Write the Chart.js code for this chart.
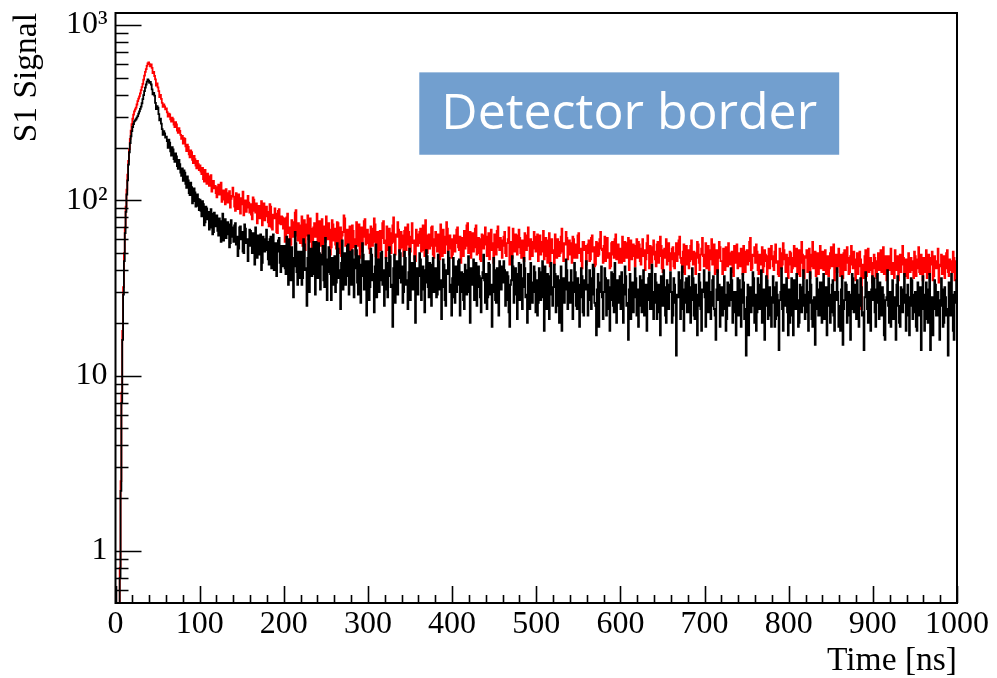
<!DOCTYPE html>
<html>
<head>
<meta charset="utf-8">
<script src="https://cdn.jsdelivr.net/npm/chart.js@4.4.1/dist/chart.umd.min.js"></script>
<style>
  html, body { margin: 0; padding: 0; background: #ffffff; }
  #wrap { width: 997px; height: 678px; }
</style>
</head>
<body>
<div id="wrap"><canvas id="c" width="997" height="678"></canvas></div>
<script>
// ---- Data (1 ns bins, bin i covers [i, i+1] ns) ----
const binWidth = 1;

const redCounts = [
  0.3, 0.3, 0.3, 0.35, 0.5, 0.8, 2.5, 8, 18, 32,
  50, 70, 92, 115, 140, 168, 196, 224, 250, 272,
  292, 308, 322, 330, 338, 352, 368, 380, 392, 408,
  425, 442, 462, 488, 515, 540, 560, 585, 605, 612,
  598, 582, 596, 570, 531, 540, 512, 490, 452, 465,
  441, 420, 388, 400, 379, 360, 341, 352, 343, 330,
  334, 318, 300, 312, 309, 290, 281, 296, 290, 270, 262, 279, 271, 250, 243, 258, 249, 236, 224, 233,
  211, 226, 224, 203, 191, 208, 202, 183, 176, 193, 188, 170, 163, 179, 172, 158, 152, 168, 161, 149,
  158, 146, 141, 153, 132, 128, 149, 135, 124, 142, 137, 121, 131, 139, 112, 125, 129, 117, 121, 110,
  104, 119, 123, 108, 117, 126, 98, 112, 114, 101, 95, 116, 110, 97, 104, 113, 91, 102, 106, 118,
  105, 92, 87, 110, 99, 89, 108, 94, 84, 103, 95, 112, 82, 96, 100, 86, 91, 106, 97, 85,
  95, 83, 78, 104, 101, 87, 85, 96, 74, 89, 93, 79, 88, 99, 72, 84, 96, 77, 81, 92,
  86, 75, 71, 95, 92, 70, 68, 83, 79, 90, 84, 66, 65, 87, 89, 74, 73, 81, 80, 69,
  79, 58, 61, 80, 84, 65, 70, 54, 56, 77, 75, 62, 66, 85, 88, 63, 59, 74, 72, 57,
  71, 81, 55, 67, 77, 52, 63, 73, 82, 60, 58, 79, 69, 50, 52, 70, 74, 62, 66, 84,
  57, 70, 76, 55, 64, 78, 50, 66, 71, 58, 81, 61, 60, 74, 68, 49, 54, 77, 73, 59,
  69, 56, 53, 75, 74, 50, 61, 70, 48, 63, 66, 82, 79, 55, 57, 68, 63, 47, 71, 60,
  52, 72, 67, 54, 60, 49, 75, 58, 55, 73, 47, 64, 70, 51, 62, 76, 78, 56, 57, 68,
  64, 53, 50, 71, 69, 55, 58, 79, 73, 48, 54, 66, 46, 60, 67, 52, 61, 74, 76, 57,
  59, 47, 71, 60, 52, 69, 65, 50, 57, 72, 80, 58, 49, 64, 62, 75, 68, 51, 53, 66,
  63, 54, 48, 67, 70, 52, 56, 73, 66, 49, 51, 62, 74, 57, 59, 46, 45, 68, 64, 55,
  57, 66, 69, 51, 52, 72, 61, 48, 77, 58, 50, 63, 64, 53, 55, 70, 71, 49, 47, 60,
  66, 55, 51, 64, 58, 46, 73, 57, 48, 68, 62, 50, 56, 75, 69, 52, 53, 63, 60, 47,
  49, 60, 63, 51, 57, 68, 70, 54, 52, 62, 44, 57, 61, 48, 67, 53, 55, 72, 74, 50,
  58, 66, 47, 55, 65, 51, 54, 69, 72, 49, 50, 61, 60, 46, 45, 64, 63, 53, 56, 70,
  62, 48, 53, 65, 46, 56, 68, 52, 57, 44, 64, 58, 49, 67, 71, 54, 52, 61, 59, 47,
  55, 62, 66, 50, 48, 57, 60, 70, 43, 53, 58, 47, 69, 56, 51, 64, 63, 49, 54, 68,
  61, 50, 47, 59, 57, 45, 65, 54, 52, 63, 70, 55, 46, 60, 58, 48, 53, 66, 62, 51,
  56, 64, 45, 52, 63, 49, 51, 58, 67, 46, 48, 61, 59, 44, 54, 65, 42, 55, 60, 50,
  52, 43, 64, 55, 47, 60, 58, 48, 50, 62, 69, 51, 45, 57, 56, 66, 61, 46, 49, 59,
  57, 49, 44, 62, 60, 47, 51, 56, 47, 63, 65, 50, 53, 45, 41, 58, 58, 52, 55, 43,
  50, 56, 59, 45, 46, 61, 63, 51, 54, 42, 43, 58, 57, 48, 49, 60, 66, 53, 52, 44,
  55, 62, 45, 52, 61, 47, 50, 41, 42, 57, 58, 49, 47, 60, 64, 46, 51, 56, 44, 53,
  53, 44, 62, 50, 45, 58, 57, 47, 49, 61, 40, 52, 59, 46, 48, 56, 55, 42, 51, 60,
  47, 58, 56, 45, 43, 53, 60, 48, 52, 40, 46, 57, 63, 50, 41, 55, 54, 44, 49, 59,
  51, 46, 42, 56, 58, 44, 48, 62, 55, 41, 39, 52, 53, 47, 60, 43, 45, 57, 50, 40,
  46, 53, 54, 42, 41, 50, 57, 45, 49, 59, 62, 47, 44, 39, 51, 56, 38, 48, 55, 43,
  52, 41, 45, 55, 59, 46, 43, 51, 50, 38, 47, 58, 56, 44, 40, 49, 53, 61, 48, 42,
  49, 57, 41, 45, 55, 40, 46, 52, 60, 43, 44, 56, 38, 48, 52, 39, 47, 58, 54, 45,
  45, 38, 53, 47, 40, 54, 49, 42, 57, 46, 43, 50, 51, 39, 37, 55, 48, 44, 56, 41,
  50, 44, 42, 53, 47, 38, 55, 46, 39, 51, 52, 43, 45, 58, 61, 40, 41, 49, 48, 54,
  44, 56, 51, 40, 38, 49, 47, 43, 54, 39, 42, 52, 49, 45, 36, 48, 53, 41, 46, 55,
  48, 42, 40, 51, 56, 44, 45, 38, 37, 53, 50, 41, 43, 57, 52, 46, 39, 49, 47, 36,
  43, 51, 50, 39, 41, 47, 55, 42, 46, 53, 38, 45, 52, 37, 44, 58, 49, 40, 36, 48,
  47, 52, 39, 43, 53, 36, 42, 49, 58, 41, 44, 51, 37, 46, 50, 38, 45, 55, 41, 48,
  51, 40, 43, 52, 38, 46, 48, 37, 41, 50, 54, 42, 46, 56, 35, 45, 49, 39, 44, 53,
  42, 37, 49, 44, 36, 50, 52, 40, 44, 54, 47, 38, 39, 48, 55, 43, 41, 51, 46, 35,
  45, 50, 38, 42, 51, 46, 24, 40, 43, 36, 48, 52, 37, 45, 53, 39, 40, 47, 44, 34,
  41, 49, 47, 37, 36, 45, 50, 40, 43, 52, 39, 46, 54, 38, 42, 48, 35, 44, 48, 40,
  46, 53, 38, 42, 44, 36, 52, 41, 40, 48, 35, 45, 49, 39, 43, 55, 47, 38, 37, 46,
  42, 36, 50, 44, 39, 47, 45, 40, 36, 51, 48, 37, 41, 46, 54, 39, 38, 49, 44, 35,
  47, 39, 40, 52, 36, 44, 49, 38, 43, 47, 51, 35, 37, 48, 45, 41, 41, 53, 34, 42,
  43, 49, 38, 44, 48, 36, 41, 50, 52, 39, 37, 46, 45, 40, 39, 51, 47, 35, 42, 45
];

const blackCounts = [
  0.3, 0.3, 0.3, 0.35, 0.45, 0.7, 2.2, 7, 16, 29,
  45, 65, 86, 108, 130, 160, 188, 212, 232, 248,
  262, 272, 282, 286, 290, 296, 302, 312, 322, 332,
  342, 358, 378, 398, 420, 440, 458, 476, 490, 482,
  468, 474, 458, 430, 402, 410, 396, 360, 331, 345,
  338, 310, 286, 292, 274, 255, 236, 248, 241, 228,
  231, 218, 199, 222, 213, 190, 180, 201, 195, 172, 166, 185, 178, 157, 151, 170, 161, 144, 138, 152,
  129, 148, 144, 124, 118, 137, 130, 110, 107, 126, 119, 96, 99, 117, 111, 92, 93, 108, 102, 88,
  101, 87, 81, 99, 95, 72, 75, 92, 90, 78, 86, 68, 70, 89, 84, 64, 66, 85, 80, 71,
  82, 67, 63, 79, 76, 58, 69, 84, 59, 71, 78, 61, 64, 75, 73, 54, 57, 77, 70, 62,
  58, 72, 74, 56, 62, 48, 53, 70, 71, 60, 66, 51, 50, 73, 69, 57, 60, 45, 55, 68,
  67, 55, 50, 65, 61, 43, 70, 57, 47, 63, 58, 49, 64, 40, 44, 62, 60, 51, 52, 68,
  58, 46, 43, 60, 62, 41, 49, 64, 40, 53, 57, 37, 51, 59, 61, 44, 39, 55, 53, 42,
  55, 41, 38, 62, 50, 33, 60, 44, 35, 54, 47, 28, 42, 66, 57, 39, 33, 51, 49, 36,
  51, 33, 36, 60, 56, 40, 41, 25, 47, 63, 30, 45, 53, 37, 44, 58, 38, 29, 58, 42,
  36, 57, 50, 31, 43, 49, 55, 35, 32, 61, 46, 27, 39, 54, 52, 38, 27, 47, 45, 33,
  48, 30, 34, 57, 53, 36, 40, 24, 44, 59, 31, 46, 50, 33, 37, 55, 56, 29, 42, 51,
  33, 52, 46, 28, 41, 55, 52, 34, 29, 48, 43, 26, 37, 57, 49, 31, 35, 45, 22, 40,
  45, 27, 32, 53, 49, 35, 38, 23, 42, 56, 28, 44, 46, 30, 35, 50, 51, 33, 40, 25,
  31, 47, 44, 28, 37, 54, 48, 32, 33, 19, 41, 49, 26, 39, 45, 29, 36, 52, 50, 34,
  42, 26, 30, 51, 47, 33, 35, 24, 39, 53, 27, 43, 44, 31, 38, 48, 20, 34, 41, 29,
  37, 50, 46, 27, 31, 42, 40, 23, 34, 52, 48, 32, 28, 44, 43, 25, 36, 47, 30, 39,
  41, 28, 29, 49, 45, 31, 35, 21, 32, 46, 43, 27, 25, 40, 38, 51, 47, 30, 33, 22,
  36, 47, 28, 26, 42, 30, 33, 45, 46, 22, 30, 39, 38, 27, 24, 43, 40, 29, 35, 48,
  30, 20, 41, 33, 34, 46, 27, 38, 44, 25, 32, 42, 37, 28, 23, 36, 39, 49, 35, 26,
  38, 24, 28, 44, 43, 29, 33, 19, 30, 47, 40, 27, 26, 41, 36, 22, 45, 32, 31, 42,
  34, 45, 40, 25, 27, 39, 37, 23, 19, 33, 35, 48, 42, 26, 29, 41, 38, 21, 32, 44,
  27, 43, 36, 24, 32, 47, 41, 28, 29, 20, 38, 33, 24, 44, 34, 26, 30, 42, 39, 23,
  35, 22, 26, 41, 39, 27, 31, 45, 28, 18, 42, 30, 24, 38, 33, 21, 37, 44, 29, 25,
  32, 43, 38, 23, 25, 37, 35, 20, 29, 42, 18, 31, 36, 26, 31, 46, 40, 24, 27, 34,
  26, 40, 34, 21, 30, 44, 39, 25, 24, 36, 33, 19, 28, 41, 37, 23, 22, 35, 31, 45,
  33, 22, 27, 40, 36, 24, 29, 43, 41, 26, 25, 17, 31, 38, 19, 30, 34, 42, 28, 21,
  30, 41, 36, 22, 24, 35, 32, 18, 27, 39, 38, 25, 23, 44, 31, 20, 35, 29, 26, 37,
  24, 39, 33, 20, 29, 42, 37, 25, 26, 16, 31, 38, 21, 30, 34, 23, 28, 41, 36, 22,
  31, 19, 25, 37, 35, 23, 28, 40, 22, 29, 33, 18, 27, 36, 38, 24, 24, 43, 30, 21,
  26, 38, 34, 21, 23, 33, 30, 17, 37, 27, 25, 40, 32, 22, 20, 35, 29, 24, 33, 39,
  30, 20, 22, 36, 33, 26, 13, 29, 28, 39, 35, 21, 24, 42, 31, 18, 26, 34, 36, 23,
  23, 37, 32, 20, 27, 41, 36, 22, 21, 33, 29, 17, 25, 38, 34, 24, 18, 31, 30, 40,
  28, 19, 34, 26, 23, 39, 30, 21, 25, 35, 37, 24, 22, 16, 31, 40, 27, 33, 19, 29,
  32, 22, 24, 37, 29, 18, 21, 34, 33, 25, 27, 41, 35, 20, 23, 30, 30, 17, 26, 36,
  22, 35, 31, 19, 26, 38, 34, 21, 24, 13, 28, 33, 17, 27, 32, 23, 25, 39, 36, 20,
  29, 18, 23, 36, 33, 24, 27, 40, 20, 26, 31, 16, 25, 37, 35, 21, 22, 32, 28, 19,
  26, 37, 32, 19, 21, 34, 29, 22, 14, 27, 30, 41, 24, 18, 33, 25, 27, 36, 23, 17,
  31, 20, 22, 36, 28, 17, 35, 24, 24, 38, 27, 19, 20, 33, 32, 23, 25, 40, 29, 21,
  23, 35, 30, 18, 26, 39, 33, 21, 19, 27, 28, 15, 24, 36, 31, 22, 22, 34, 34, 20,
  28, 38, 21, 26, 32, 17, 25, 36, 29, 20, 23, 33, 35, 22, 18, 30, 27, 41, 30, 19,
  25, 18, 31, 37, 15, 24, 27, 34, 33, 20, 22, 30, 29, 16, 24, 38, 36, 23, 26, 33,
  21, 35, 29, 19, 25, 36, 32, 22, 23, 14, 28, 39, 34, 24, 20, 30, 26, 18, 31, 37,
  27, 36, 23, 19, 31, 38, 26, 21, 34, 24, 22, 32, 29, 17, 16, 27, 28, 40, 25, 20,
  30, 19, 24, 35, 21, 27, 28, 16, 33, 37, 25, 20, 19, 32, 31, 23, 26, 38, 29, 18,
  22, 33, 28, 17, 25, 36, 35, 21, 23, 29, 30, 19, 18, 34, 27, 22, 32, 14, 24, 37,
  29, 18, 21, 34, 26, 20, 31, 38, 14, 24, 28, 17, 24, 35, 33, 22, 22, 30, 27, 16,
  25, 36, 31, 19, 20, 32, 28, 22, 24, 13, 34, 27, 22, 38, 29, 18, 16, 30, 26, 35
];

const xMajorTicks = [0, 100, 200, 300, 400, 500, 600, 700, 800, 900, 1000];
const xMinorStep = 20;
const yMajorTicks = [1, 10, 100, 1000];
const yTickLabels = ['1', '10', '10\u00B2', '10\u00B3'];
const yRange = [0.505, 1171];
const xRange = [0, 1000];

const boxLabel = 'Detector border';
// box corners in data coordinates (ns, signal)
const boxData = { x0: 361, x1: 860, y0: 537, y1: 182 };

// ---- build library structures ----
const toPoints = arr => arr.map((v, i) => ({ x: (i + 0.5) * binWidth, y: v }));

const xTicksAll = [];
for (let v = xRange[0]; v <= xRange[1]; v += xMinorStep) xTicksAll.push(v);
const yTicksAll = [];
[0.1].concat(yMajorTicks).forEach(d => {
  for (let k = 1; k <= 9; k++) {
    const v = +(d * k).toPrecision(3);
    if (v >= yRange[0] && v <= yRange[1]) yTicksAll.push(v);
  }
});
const isYMajor = v => yMajorTicks.includes(v);

const framePlugin = {
  id: 'rootFrame',
  afterDraw(chart) {
    const { ctx, chartArea: a, scales } = chart;
    const xs = scales.x, ys = scales.y;
    ctx.save();
    ctx.strokeStyle = '#000';
    ctx.lineWidth = 1.6;
    ctx.beginPath();
    ys.ticks.forEach(t => {
      const py = Math.round(ys.getPixelForValue(t.value)) + 0.5;
      const len = isYMajor(t.value) ? 26 : 13;
      ctx.moveTo(a.left, py); ctx.lineTo(a.left + len, py);
    });
    xs.ticks.forEach(t => {
      const px = Math.round(xs.getPixelForValue(t.value)) + 0.5;
      const len = xMajorTicks.includes(t.value) ? 17 : 8;
      ctx.moveTo(px, a.bottom); ctx.lineTo(px, a.bottom - len);
    });
    ctx.stroke();
    ctx.lineWidth = 2;
    ctx.strokeRect(a.left, a.top, a.right - a.left, a.bottom - a.top);

    // annotation box
    const bx0 = xs.getPixelForValue(boxData.x0), bx1 = xs.getPixelForValue(boxData.x1);
    const by0 = ys.getPixelForValue(boxData.y0), by1 = ys.getPixelForValue(boxData.y1);
    ctx.fillStyle = '#729fcf';
    ctx.fillRect(bx0, by0, bx1 - bx0, by1 - by0);
    ctx.fillStyle = '#ffffff';
    ctx.font = '50px "Open Sans"';
    ctx.textAlign = 'center';
    ctx.textBaseline = 'middle';
    ctx.fillText(boxLabel, (bx0 + bx1) / 2, (by0 + by1) / 2 + 1);
    ctx.restore();
  }
};

const serif = { family: '"Liberation Serif", "Times New Roman", serif', size: 32 };
const serifTitle = { family: '"Liberation Serif", "Times New Roman", serif', size: 33.5, lineHeight: 1 };

new Chart(document.getElementById('c'), {
  type: 'line',
  data: {
    datasets: [
      { label: 'black', data: toPoints(blackCounts), borderColor: '#000000', borderWidth: 1.8,
        pointRadius: 0, stepped: 'middle', order: 0 },
      { label: 'red', data: toPoints(redCounts), borderColor: '#ff0000', borderWidth: 1.8,
        pointRadius: 0, stepped: 'middle', order: 1 }
    ]
  },
  options: {
    responsive: false,
    animation: false,
    devicePixelRatio: 1,
    layout: { padding: { top: 13, right: 40, left: 0, bottom: 0 } },
    plugins: { legend: { display: false }, tooltip: { enabled: false } },
    scales: {
      x: {
        type: 'linear', min: xRange[0], max: xRange[1],
        grid: { display: false, drawTicks: false },
        border: { display: false },
        afterBuildTicks: s => { s.ticks = xTicksAll.map(v => ({ value: v })); },
        afterFit: s => { s.height = 75; s.paddingLeft = 0; s.paddingRight = 0; },
        ticks: {
          autoSkip: false, maxRotation: 0, padding: 2, color: '#000', font: serif,
          callback: v => xMajorTicks.includes(v) ? String(v) : ''
        },
        title: { display: true, text: 'Time [ns]', align: 'end', color: '#000', font: serifTitle,
                 padding: { top: 0, bottom: 0 } }
      },
      y: {
        type: 'logarithmic', min: yRange[0], max: yRange[1],
        grid: { display: false, drawTicks: false },
        border: { display: false },
        afterBuildTicks: s => { s.ticks = yTicksAll.map(v => ({ value: v })); },
        afterFit: s => { s.width = 115.5; s.paddingTop = 0; s.paddingBottom = 0; },
        ticks: {
          autoSkip: false, padding: 8, color: '#000', font: serif,
          callback: v => { const i = yMajorTicks.indexOf(v); return i >= 0 ? yTickLabels[i] : ''; }
        },
        title: { display: true, text: 'S1 Signal', align: 'end', color: '#000', font: serifTitle,
                 padding: { top: 10.5, bottom: 0 } }
      }
    }
  },
  plugins: [framePlugin]
});
</script>
</body>
</html>
